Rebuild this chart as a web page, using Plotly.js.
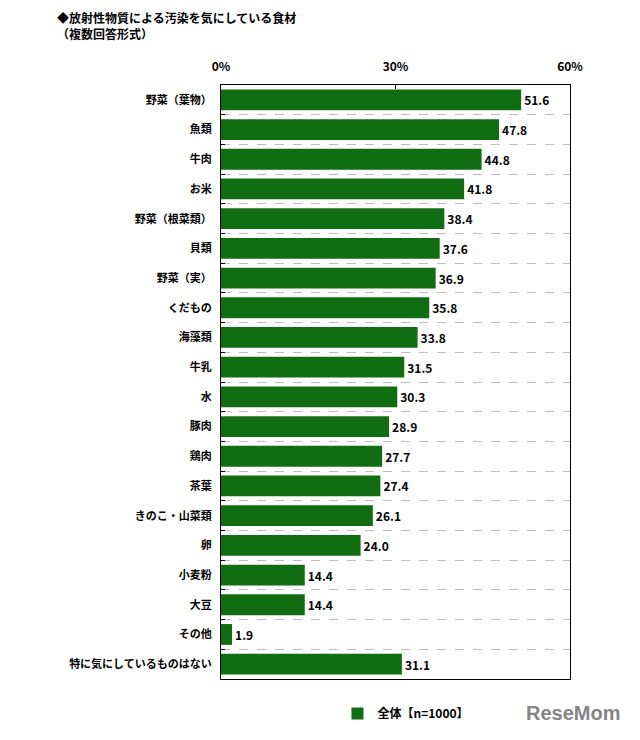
<!DOCTYPE html>
<html>
<head>
<meta charset="utf-8">
<script src="https://cdn.plot.ly/plotly-3.0.1.min.js"></script>
<style>
  body { margin: 0; background: #fff; }
  #chart { width: 640px; height: 740px; }
</style>
</head>
<body>
<div id="chart"></div>
<script>
const categories = [
  '野菜（葉物）', '魚類', '牛肉', 'お米', '野菜（根菜類）', '貝類', '野菜（実）',
  'くだもの', '海藻類', '牛乳', '水', '豚肉', '鶏肉', '茶葉', 'きのこ・山菜類',
  '卵', '小麦粉', '大豆', 'その他', '特に気にしているものはない'
];
const values = [
  51.6, 47.8, 44.8, 41.8, 38.4, 37.6, 36.9,
  35.8, 33.8, 31.5, 30.3, 28.9, 27.7, 27.4, 26.1,
  24.0, 14.4, 14.4, 1.9, 31.1
];
const seriesName = '全体【n=1000】';
const xTicks = [0, 30, 60];

const font = '"Noto Sans CJK JP", "Liberation Sans", Arial, sans-serif';

const trace = {
  type: 'bar',
  orientation: 'h',
  y: categories,
  x: values,
  name: seriesName,
  marker: { color: '#116d11' },
  text: values.map(v => v.toFixed(1)),
  textposition: 'outside',
  cliponaxis: false,
  textfont: { family: font, size: 12, color: '#000', weight: 'bold' },
  hoverinfo: 'skip'
};

const layout = {
  width: 640,
  height: 740,
  margin: { l: 221, r: 70, t: 85, b: 57 },
  paper_bgcolor: '#fff',
  plot_bgcolor: '#fff',
  bargap: 0.3,
  showlegend: true,
  legend: {
    orientation: 'h',
    x: 0.53, xanchor: 'center',
    y: -0.058, yanchor: 'middle',
    font: { family: font, size: 12, color: '#000', weight: 'bold' },
    itemwidth: 30
  },
  xaxis: {
    side: 'top',
    range: [0, 60],
    tickvals: xTicks,
    ticktext: xTicks.map(t => t + '%'),
    ticks: 'inside',
    ticklen: 4,
    tickcolor: '#000',
    showgrid: false,
    zeroline: false,
    showline: true,
    mirror: true,
    linecolor: '#000',
    linewidth: 1,
    ticklabelstandoff: 8,
    tickfont: { family: font, size: 12, color: '#000', weight: 'bold' },
    fixedrange: true
  },
  yaxis: {
    autorange: 'reversed',
    tickson: 'boundaries',
    ticks: 'inside',
    ticklen: 4,
    tickcolor: '#000',
    showgrid: true,
    griddash: 'dash',
    gridcolor: '#bdbdbd',
    gridwidth: 1,
    showline: true,
    mirror: true,
    linecolor: '#000',
    linewidth: 1,
    ticklabelstandoff: 6,
    tickfont: { family: font, size: 11, color: '#000', weight: 'bold' },
    fixedrange: true
  },
  annotations: [
    {
      xref: 'paper', yref: 'paper',
      x: -0.476, y: 1.069, xanchor: 'left', yanchor: 'bottom', align: 'left',
      showarrow: false,
      text: '◆放射性物質による汚染を気にしている食材<br>（複数回答形式）',
      font: { family: font, size: 12, color: '#000', weight: 'bold' }
    },
    {
      xref: 'paper', yref: 'paper',
      x: 1.149, y: -0.058, xanchor: 'right', yanchor: 'middle',
      showarrow: false,
      text: 'ReseMom',
      font: { family: '"Liberation Sans", Arial, sans-serif', size: 20, color: '#858585', weight: 'bold' }
    }
  ]
};

Plotly.newPlot('chart', [trace], layout, { displayModeBar: false, staticPlot: true });
</script>
</body>
</html>
